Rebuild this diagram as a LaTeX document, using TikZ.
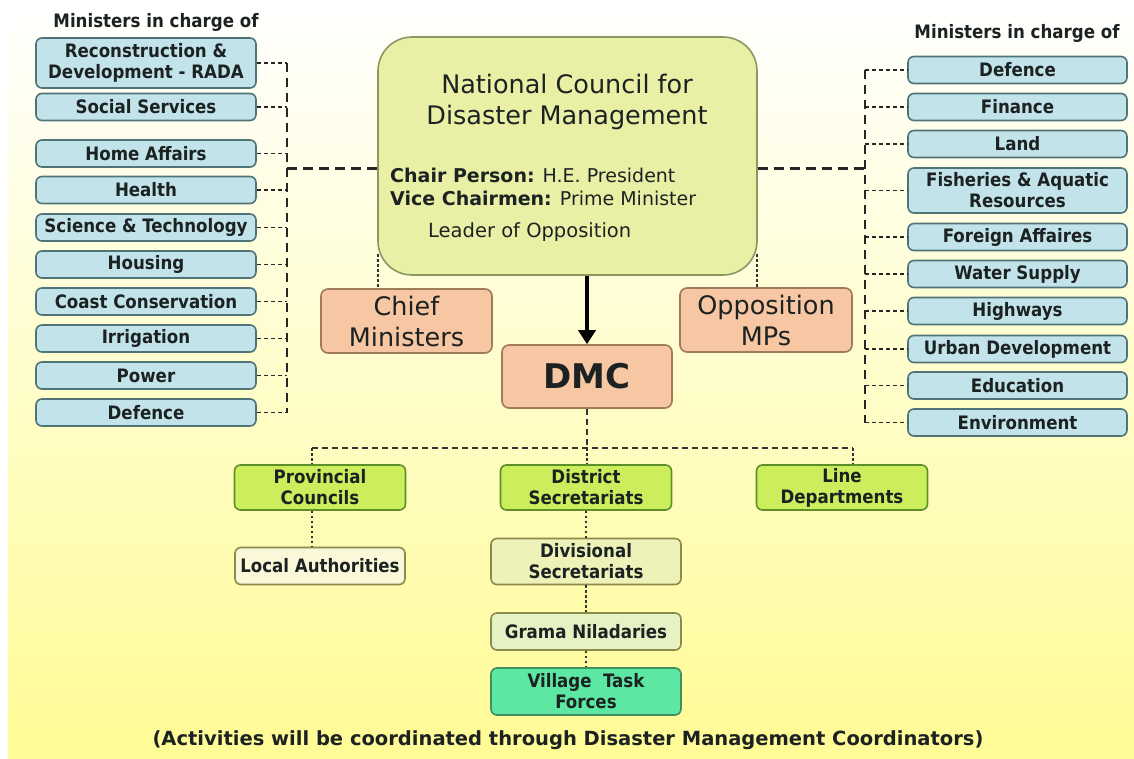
\documentclass[tikz,border=0pt]{standalone}
\usepackage{fontspec}
\setmainfont{DejaVu Sans}
\newfontfamily\cond{DejaVu Sans Condensed}
\usetikzlibrary{arrows.meta}
\definecolor{txt}{HTML}{1C2222}
\definecolor{bluef}{HTML}{C3E3EA}
\definecolor{bluel}{HTML}{4F7478}
\definecolor{salf}{HTML}{F7C6A3}
\definecolor{sall}{HTML}{A07B5A}
\definecolor{ncf}{HTML}{E9F0A6}
\definecolor{ncl}{HTML}{8C9660}
\definecolor{grf}{HTML}{CDEE5C}
\definecolor{grl}{HTML}{5E8E2A}
\definecolor{divf}{HTML}{EEF2B8}
\definecolor{divl}{HTML}{8A8A4A}
\definecolor{gnf}{HTML}{E6F2C4}
\definecolor{locf}{HTML}{FAF8D8}
\definecolor{vilf}{HTML}{5CE8A2}
\definecolor{vill}{HTML}{3F8F5F}
\definecolor{bgb}{HTML}{FFFB95}
\begin{document}
\begin{tikzpicture}[x=1pt,y=-1pt,
  boxbase/.style={rounded corners=6pt, line width=1.6pt, inner sep=0pt, align=center, text=txt},
  bluebox/.style={boxbase, draw=bluel, fill=bluef, minimum width=220pt, font=\cond\bfseries\fontsize{18.5}{21}\selectfont},
  salbox/.style={boxbase, draw=sall, fill=salf, rounded corners=7pt, font=\fontsize{25.5}{31}\selectfont},
  grbox/.style={boxbase, draw=grl, fill=grf, minimum width=171pt, minimum height=45pt, font=\cond\bfseries\fontsize{18.5}{21}\selectfont},
  lowbox/.style={boxbase, draw=divl, minimum width=190pt, font=\cond\bfseries\fontsize{18.5}{21}\selectfont},
  heading/.style={font=\cond\bfseries\fontsize{18.5}{20}\selectfont, text=txt, inner sep=0pt},
  ministerlink/.style={draw=black!85, line width=1.4pt, dash pattern=on 4pt off 3pt},
  spine/.style={draw=black!85, line width=2.6pt, dash pattern=on 9pt off 6pt},
  thickdash/.style={draw=black!85, line width=3pt, dash pattern=on 10pt off 6pt},
  dotlink/.style={draw=black!80, line width=1.2pt, dash pattern=on 2.5pt off 2.5pt},
  busdash/.style={draw=black!80, line width=2pt, dash pattern=on 6pt off 4pt}
]
\useasboundingbox (0,0) rectangle (1134,758);
\fill[white] (0,0) rectangle (1134,758);
\shade[top color=white, bottom color=bgb] (8,0) rectangle (1134,758);

% headings
\node[heading] (hl) at (156,22) {Ministers in charge of};
\node[heading] (hr) at (1017,33) {Ministers in charge of};

% left column
\foreach \n/\y/\h/\t in {
  1/63/50/{Reconstruction \&\\Development - RADA},
  2/107/27/{Social Services},
  3/153.5/27/{Home Affairs},
  4/190/27/{Health},
  5/227.5/27/{Science \& Technology},
  6/264.5/27/{Housing},
  7/301.5/27/{Coast Conservation},
  8/338.5/27/{Irrigation},
  9/375.5/27/{Power},
  10/412.5/27/{Defence}}{
  \node[bluebox, minimum height=\h pt] (L\n) at (146,\y) {\t};
  \coordinate (LV\n) at (287,\y);
  \draw[ministerlink] (L\n.east) -- (LV\n);
}
\draw[spine] (LV1) -- (LV10);

% right column
\foreach \n/\y/\h/\t in {
  1/70/27/{Defence},
  2/107/27/{Finance},
  3/144/27/{Land},
  4/190.5/45/{Fisheries \& Aquatic\\Resources},
  5/237/27/{Foreign Affaires},
  6/274/27/{Water Supply},
  7/311/27/{Highways},
  8/349/27/{Urban Development},
  9/385.5/27/{Education},
  10/422.5/27/{Environment}}{
  \node[bluebox, minimum width=219pt, minimum height=\h pt] (R\n) at (1017.5,\y) {\t};
  \coordinate (RV\n) at (865,\y);
  \draw[ministerlink] (RV\n) -- (R\n.west);
}
\draw[spine] (RV1) -- (RV10);

% national council
\node[boxbase, draw=ncl, fill=ncf, rounded corners=34pt, minimum width=379pt, minimum height=238pt] (NC) at (567.5,156) {};
\node[font=\fontsize{25.5}{31}\selectfont, text=txt, align=center, inner sep=0pt] (nct) at (567,102) {National Council for\\Disaster Management};
\node[font=\fontsize{19}{23}\selectfont, text=txt, align=left, anchor=west, inner sep=0pt] (ncc) at (390,187) {\textbf{Chair Person:} H.E. President\\\textbf{Vice Chairmen:} Prime Minister};
\node[font=\fontsize{19.5}{22}\selectfont, text=txt, anchor=west, inner sep=0pt] (ncl) at (428,232) {Leader of Opposition};

\coordinate (LH) at (287,168);
\coordinate (RH) at (865,168);
\draw[thickdash] (LH) -- (NC.west |- LH);
\draw[thickdash] (NC.east |- RH) -- (RH);

% chief ministers / opposition
\node[salbox, minimum width=171pt, minimum height=64pt] (CM) at (406.5,321) {Chief\\Ministers};
\node[salbox, minimum width=172pt, minimum height=64pt] (OM) at (766,320) {Opposition\\MPs};
\coordinate (cmt) at (378,254);
\coordinate (omt) at (757,254);
\draw[dotlink] (cmt) -- (CM.north -| cmt);
\draw[dotlink] (omt) -- (OM.north -| omt);

% DMC
\node[salbox, minimum width=170pt, minimum height=63pt, font=\bfseries\fontsize{34}{36}\selectfont] (DMC) at (587,376.5) {DMC};
\draw[line width=3.5pt, -{Triangle[length=14pt,width=17pt]}] (NC.south -| DMC) -- (DMC.north);

% second level
\node[grbox] (PC) at (320,487.5) {Provincial\\Councils};
\node[grbox] (DS) at (586,487.5) {District\\Secretariats};
\node[grbox] (LD) at (842,487.5) {Line\\Departments};
\coordinate (busL) at (312,448);
\coordinate (busC) at (587,448);
\coordinate (busR) at (853,448);
\draw[busdash] (DMC.south) -- (busC);
\draw[busdash] (busL) -- (busR);
\draw[dotlink] (busL) -- (PC.north -| busL);
\draw[dotlink] (busC) -- (DS.north -| busC);
\draw[dotlink] (busR) -- (LD.north -| busR);

% lower boxes
\node[lowbox, fill=locf, minimum width=170pt, minimum height=37pt] (LA) at (320,566) {Local Authorities};
\node[lowbox, fill=divf, minimum height=46pt] (DV) at (586,561.5) {Divisional\\Secretariats};
\node[lowbox, fill=gnf, minimum height=37pt] (GN) at (586,631.5) {Grama Niladaries};
\node[lowbox, draw=vill, fill=vilf, minimum height=47pt] (VT) at (586,691.5) {Village\ \ Task\\Forces};
\draw[dotlink] (PC.south -| busL) -- (LA.north -| busL);
\draw[dotlink] (DS.south) -- (DV.north);
\draw[dotlink] (DV.south) -- (GN.north);
\draw[dotlink] (GN.south) -- (VT.north);

% footer
\node[font=\bfseries\fontsize{19.5}{22}\selectfont, text=txt, inner sep=0pt] (foot) at (568,740) {(Activities will be coordinated through Disaster Management Coordinators)};
\end{tikzpicture}
\end{document}
